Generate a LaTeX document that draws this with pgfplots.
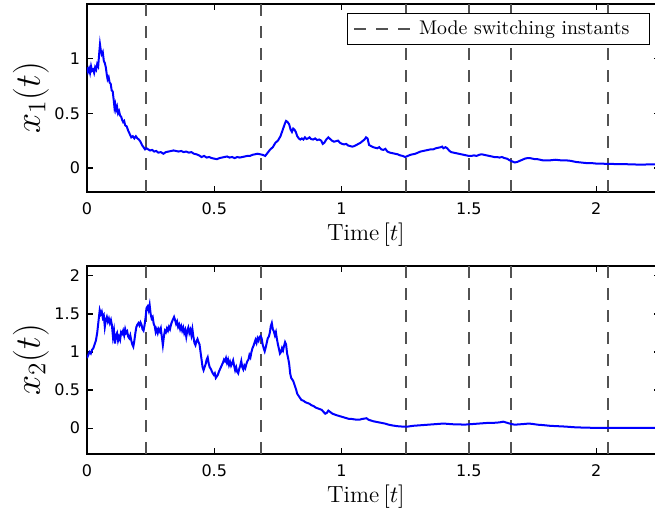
\RequirePackage{fix-cm}
\documentclass[border=0pt]{standalone}
\usepackage{fontspec}
\setsansfont{DejaVu Sans}
\usepackage{pgfplots}
\pgfplotsset{compat=1.18}
\usepackage{pgfplotstable}

\pgfplotstableread{
t y
0.000 0.92
0.004 0.88
0.008 0.91
0.012 0.87
0.016 0.93
0.020 0.89
0.024 0.90
0.028 0.87
0.032 0.92
0.036 0.90
0.040 0.95
0.044 0.93
0.048 1.05
0.051 1.13
0.054 1.08
0.058 1.04
0.062 1.06
0.066 0.98
0.070 0.96
0.074 0.92
0.078 0.85
0.081 0.81
0.085 0.83
0.089 0.78
0.093 0.77
0.097 0.71
0.101 0.70
0.105 0.62
0.108 0.55
0.111 0.58
0.114 0.53
0.118 0.56
0.122 0.50
0.126 0.52
0.130 0.48
0.134 0.47
0.138 0.44
0.142 0.42
0.146 0.43
0.150 0.39
0.156 0.38
0.162 0.34
0.168 0.31
0.174 0.28
0.180 0.29
0.186 0.27
0.192 0.29
0.198 0.27
0.204 0.26
0.210 0.24
0.216 0.21
0.222 0.19
0.228 0.17
0.234 0.18
0.240 0.17
0.248 0.16
0.256 0.165
0.264 0.15
0.272 0.155
0.280 0.14
0.290 0.145
0.300 0.13
0.310 0.145
0.320 0.15
0.330 0.155
0.340 0.16
0.350 0.155
0.360 0.15
0.370 0.155
0.380 0.145
0.390 0.15
0.400 0.14
0.410 0.145
0.420 0.13
0.430 0.125
0.440 0.115
0.450 0.10
0.460 0.11
0.470 0.095
0.480 0.10
0.490 0.09
0.500 0.085
0.510 0.08
0.520 0.09
0.530 0.095
0.540 0.10
0.550 0.105
0.560 0.095
0.570 0.10
0.580 0.09
0.590 0.10
0.600 0.095
0.610 0.10
0.620 0.105
0.630 0.11
0.640 0.11
0.650 0.12
0.660 0.125
0.670 0.13
0.680 0.125
0.690 0.12
0.700 0.11
0.710 0.14
0.720 0.17
0.730 0.19
0.740 0.23
0.750 0.25
0.760 0.29
0.766 0.33
0.772 0.37
0.778 0.41
0.782 0.43
0.788 0.42
0.794 0.40
0.800 0.35
0.805 0.33
0.810 0.36
0.815 0.35
0.820 0.33
0.826 0.29
0.832 0.27
0.838 0.26
0.844 0.27
0.850 0.26
0.856 0.28
0.862 0.265
0.868 0.27
0.874 0.28
0.880 0.265
0.888 0.26
0.896 0.27
0.904 0.255
0.912 0.26
0.920 0.25
0.926 0.22
0.932 0.23
0.940 0.26
0.948 0.28
0.955 0.265
0.962 0.25
0.970 0.24
0.978 0.245
0.986 0.25
0.994 0.23
1.002 0.22
1.010 0.215
1.018 0.22
1.026 0.205
1.034 0.20
1.042 0.195
1.050 0.20
1.058 0.21
1.066 0.22
1.074 0.23
1.082 0.245
1.090 0.26
1.096 0.28
1.102 0.27
1.108 0.21
1.116 0.20
1.124 0.19
1.132 0.185
1.140 0.18
1.148 0.19
1.156 0.17
1.164 0.165
1.172 0.175
1.180 0.15
1.190 0.14
1.200 0.135
1.210 0.13
1.220 0.125
1.230 0.115
1.240 0.11
1.250 0.10
1.260 0.11
1.270 0.12
1.280 0.125
1.290 0.13
1.300 0.14
1.310 0.15
1.320 0.155
1.330 0.16
1.340 0.165
1.350 0.17
1.360 0.17
1.370 0.18
1.380 0.185
1.390 0.19
1.395 0.195
1.400 0.18
1.408 0.19
1.415 0.18
1.422 0.16
1.430 0.145
1.440 0.14
1.450 0.135
1.460 0.13
1.470 0.125
1.480 0.12
1.490 0.115
1.500 0.11
1.510 0.11
1.520 0.115
1.530 0.11
1.540 0.12
1.550 0.125
1.560 0.12
1.570 0.115
1.580 0.11
1.590 0.105
1.600 0.10
1.610 0.10
1.620 0.095
1.630 0.10
1.640 0.09
1.650 0.085
1.660 0.07
1.670 0.06
1.680 0.05
1.690 0.055
1.700 0.065
1.710 0.075
1.720 0.085
1.730 0.09
1.740 0.09
1.750 0.085
1.760 0.08
1.770 0.08
1.780 0.075
1.790 0.07
1.800 0.07
1.820 0.07
1.840 0.075
1.860 0.07
1.880 0.07
1.900 0.065
1.920 0.055
1.940 0.05
1.960 0.045
1.980 0.045
2.000 0.04
2.020 0.04
2.040 0.037
2.060 0.037
2.080 0.035
2.100 0.035
2.120 0.034
2.140 0.033
2.160 0.031
2.180 0.03
2.200 0.032
2.220 0.033
2.240 0.033
}\xone

\pgfplotstableread{
t y
0.000 0.92
0.005 0.96
0.010 1.00
0.015 0.98
0.020 1.03
0.025 1.05
0.030 1.10
0.035 1.15
0.040 1.25
0.045 1.40
0.050 1.55
0.054 1.50
0.058 1.53
0.062 1.45
0.066 1.48
0.070 1.33
0.074 1.42
0.078 1.46
0.082 1.40
0.086 1.44
0.090 1.38
0.094 1.42
0.098 1.35
0.102 1.20
0.106 1.28
0.110 1.11
0.114 1.22
0.118 1.25
0.122 1.15
0.126 1.20
0.130 1.16
0.134 1.26
0.138 1.24
0.142 1.28
0.146 1.22
0.150 1.30
0.154 1.25
0.158 1.27
0.162 1.20
0.166 1.18
0.170 1.22
0.174 1.15
0.178 1.10
0.182 1.07
0.186 1.15
0.190 1.25
0.194 1.33
0.198 1.36
0.202 1.38
0.206 1.35
0.210 1.39
0.214 1.36
0.218 1.30
0.222 1.28
0.226 1.35
0.230 1.45
0.234 1.58
0.238 1.60
0.242 1.55
0.246 1.62
0.250 1.50
0.254 1.44
0.258 1.46
0.262 1.37
0.266 1.34
0.270 1.26
0.274 1.30
0.278 1.25
0.282 1.30
0.286 1.27
0.290 1.31
0.294 1.20
0.298 1.09
0.302 1.20
0.306 1.28
0.310 1.26
0.314 1.31
0.318 1.28
0.322 1.33
0.326 1.30
0.330 1.36
0.334 1.40
0.338 1.43
0.342 1.46
0.346 1.42
0.350 1.37
0.354 1.40
0.358 1.33
0.362 1.36
0.366 1.30
0.370 1.34
0.374 1.28
0.378 1.32
0.382 1.25
0.386 1.29
0.390 1.20
0.394 1.28
0.398 1.32
0.402 1.25
0.406 1.29
0.410 1.22
0.414 1.30
0.418 1.20
0.422 1.12
0.426 1.09
0.430 1.14
0.434 1.17
0.438 1.13
0.442 1.10
0.446 1.00
0.450 0.90
0.454 0.80
0.458 0.76
0.462 0.80
0.466 0.84
0.470 0.90
0.474 0.93
0.478 0.85
0.482 0.80
0.486 0.78
0.490 0.75
0.494 0.72
0.498 0.70
0.502 0.72
0.506 0.66
0.510 0.68
0.514 0.70
0.518 0.74
0.522 0.77
0.526 0.80
0.530 0.83
0.534 0.86
0.538 0.90
0.542 0.88
0.546 0.92
0.550 0.86
0.554 0.90
0.558 0.83
0.562 0.87
0.566 0.82
0.570 0.85
0.574 0.89
0.578 0.82
0.582 0.76
0.586 0.80
0.590 0.74
0.594 0.72
0.598 0.78
0.602 0.82
0.606 0.88
0.610 0.80
0.614 0.77
0.618 0.82
0.622 0.79
0.626 0.84
0.630 0.88
0.634 0.90
0.638 0.96
0.642 0.93
0.646 1.00
0.650 1.05
0.654 1.08
0.658 1.12
0.662 1.16
0.666 1.12
0.670 1.18
0.674 1.15
0.678 1.20
0.682 1.21
0.686 1.18
0.690 1.10
0.694 1.05
0.698 1.01
0.702 1.06
0.706 1.12
0.710 1.18
0.714 1.20
0.718 1.25
0.722 1.34
0.726 1.38
0.730 1.30
0.734 1.27
0.738 1.22
0.742 1.26
0.746 1.17
0.750 1.10
0.754 1.04
0.758 0.98
0.762 1.00
0.766 1.05
0.770 1.02
0.774 1.08
0.778 1.13
0.782 1.10
0.786 0.98
0.790 0.92
0.794 0.85
0.798 0.72
0.802 0.66
0.806 0.64
0.810 0.62
0.814 0.58
0.818 0.54
0.822 0.50
0.826 0.45
0.830 0.43
0.836 0.40
0.842 0.37
0.850 0.36
0.858 0.34
0.866 0.33
0.874 0.32
0.882 0.30
0.890 0.29
0.898 0.27
0.906 0.26
0.914 0.25
0.922 0.24
0.930 0.21
0.936 0.19
0.942 0.20
0.948 0.23
0.956 0.21
0.964 0.19
0.972 0.18
0.980 0.17
0.990 0.16
1.000 0.15
1.010 0.14
1.020 0.13
1.030 0.12
1.040 0.12
1.050 0.115
1.060 0.11
1.070 0.11
1.080 0.12
1.090 0.125
1.098 0.13
1.106 0.11
1.115 0.10
1.125 0.09
1.140 0.08
1.155 0.07
1.170 0.06
1.185 0.045
1.200 0.035
1.220 0.025
1.240 0.02
1.260 0.02
1.280 0.03
1.300 0.035
1.320 0.04
1.340 0.045
1.360 0.05
1.380 0.055
1.400 0.06
1.420 0.055
1.440 0.05
1.460 0.05
1.480 0.045
1.500 0.05
1.520 0.055
1.540 0.06
1.560 0.065
1.580 0.07
1.600 0.07
1.620 0.075
1.635 0.085
1.650 0.07
1.665 0.055
1.680 0.045
1.700 0.05
1.720 0.055
1.735 0.06
1.750 0.055
1.770 0.045
1.790 0.04
1.820 0.03
1.850 0.025
1.880 0.02
1.910 0.012
1.940 0.008
1.970 0.005
2.000 0.004
2.050 0.004
2.100 0.004
2.150 0.004
2.200 0.004
2.240 0.004
}\xtwo

\pgfplotsset{
  myaxis/.style={
    scale only axis, width=286.4pt, height=94pt,
    xmin=0, xmax=2.25,
    xtick={0,0.5,1,1.5,2},
    tick align=inside,
    major tick length=3pt,
    axis line style={line width=0.8pt},
    every tick/.style={black, line width=0.6pt},
    tick label style={font=\sffamily\fontsize{8}{9}\selectfont},
    xticklabel style={yshift=-2pt},
    /pgf/number format/assume math mode=true,
    xlabel={Time$\,[t]$},
    xlabel style={at={(axis description cs:0.487,-0.225)}, anchor=center, font=\fontsize{11.7}{14}\selectfont},
    ylabel style={at={(axis description cs:-0.098,0.5)}, anchor=center, font=\fontsize{18}{20}\selectfont},
  },
  sw/.style={color=black!68, line width=0.8pt, dash pattern=on 6pt off 5pt},
}

\begin{document}
\begin{tikzpicture}
\begin{axis}[myaxis, at={(0pt,131pt)},
  ymin=-0.22, ymax=1.5, ytick={0,0.5,1},
  ylabel={$x_1(t)$},
  legend style={at={(0.983,0.952)}, anchor=north east, draw=black, line width=0.6pt,
    font=\fontsize{9.9}{11}\selectfont, inner xsep=3pt, inner ysep=1.5pt},
  legend image code/.code={\draw[#1] (0pt,0pt) -- (29pt,0pt);},
]
\addplot[sw] coordinates {(0.232,-0.22) (0.232,1.5)};
\addlegendentry{\hspace*{1pt}Mode switching instants\hspace*{5pt}}
\addplot[sw, forget plot] coordinates {(0.683,-0.22) (0.683,1.5)};
\addplot[sw, forget plot] coordinates {(1.253,-0.22) (1.253,1.5)};
\addplot[sw, forget plot] coordinates {(1.500,-0.22) (1.500,1.5)};
\addplot[sw, forget plot] coordinates {(1.665,-0.22) (1.665,1.5)};
\addplot[sw, forget plot] coordinates {(2.046,-0.22) (2.046,1.5)};
\addplot[blue, line width=1pt, no markers, forget plot] table[x=t, y=y] {\xone};
\end{axis}
\begin{axis}[myaxis, at={(0pt,0pt)},
  ymin=-0.34, ymax=2.13, ytick={0,0.5,1,1.5,2},
  ylabel={$x_2(t)$},
]
\addplot[sw] coordinates {(0.232,-0.34) (0.232,2.13)};
\addplot[sw] coordinates {(0.683,-0.34) (0.683,2.13)};
\addplot[sw] coordinates {(1.253,-0.34) (1.253,2.13)};
\addplot[sw] coordinates {(1.500,-0.34) (1.500,2.13)};
\addplot[sw] coordinates {(1.665,-0.34) (1.665,2.13)};
\addplot[sw] coordinates {(2.046,-0.34) (2.046,2.13)};
\addplot[blue, line width=1pt, no markers] table[x=t, y=y] {\xtwo};
\end{axis}
\pgfresetboundingbox
\path[use as bounding box] (-43.5pt,-32pt) rectangle (284pt,227pt);
\end{tikzpicture}
\end{document}
